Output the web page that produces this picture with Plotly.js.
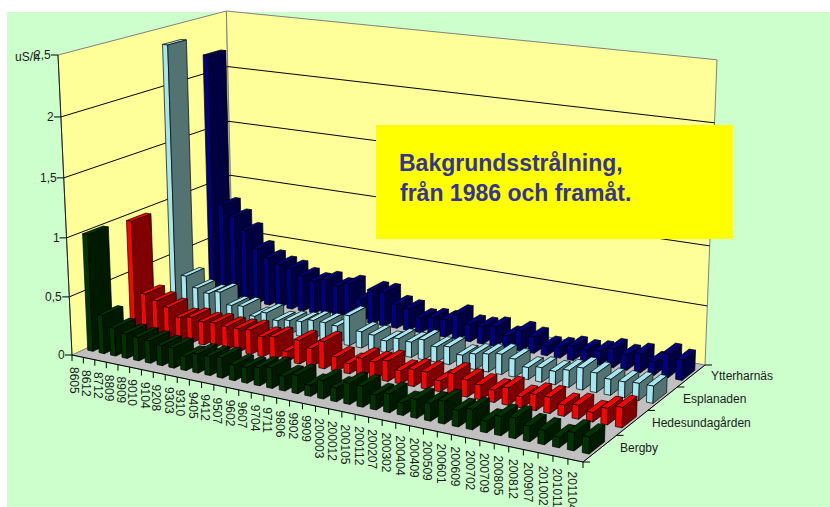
<!DOCTYPE html>
<html>
<head>
<meta charset="utf-8">
<script src="https://cdn.plot.ly/plotly-3.0.0.min.js"></script>
<style>html,body{margin:0;padding:0;background:#fff}#chart{width:830px;height:507px}</style>
</head>
<body>
<div id="chart"></div>
<script>
// Background radiation per measuring station, uS/h
const categories = ["8605","8612","8712","8809","8909","9010","9104","9208","9303","9310","9405","9412","9507","9602","9607","9704","9711","9806","9902","9909","200003","200012","200105","200112","200207","200302","200404","200409","200509","200601","200609","200702","200709","200805","200812","200907","201002","201011","201104"];
const bergby = [1.0,.33,.24,.21,.2,.19,.17,.17,.12,.16,.16,.17,.13,.13,.15,.17,.12,.15,.09,.15,.11,.17,.17,.12,.15,.1,.15,.14,.18,.13,.16,.09,.15,.16,.12,.11,.08,.14,.13];
const hedesunda = [.97,.35,.31,.27,.2,.22,.2,.21,.2,.2,.21,.17,.19,.085,.2,.15,.23,.12,.085,.15,.14,.17,.11,.14,.14,.09,.17,.14,.12,.1,.14,.09,.13,.13,.09,.11,.075,.13,.16];
const esplanaden = [2.37,.35,.26,.23,.26,.16,.17,.1,.15,.1,.12,.13,.16,.16,.15,.26,.14,.13,.1,.14,.13,.17,.13,.15,.1,.13,.15,.17,.15,.1,.12,.11,.14,.18,.16,.13,.13,.14,.14];
const ytterharnas = [2.18,.85,.76,.65,.5,.43,.39,.37,.32,.29,.32,.28,.32,.2,.3,.3,.21,.19,.13,.15,.15,.22,.15,.15,.17,.11,.17,.14,.08,.09,.12,.11,.12,.16,.13,.16,.11,.2,.17];
const seriesNames = ["Bergby","Hedesundagården","Esplanaden","Ytterharnäs"];
const seriesValues = [bergby, hedesunda, esplanaden, ytterharnas];
const valueTicks = [0,0.5,1,1.5,2,2.5];
const valueLabels = ["0","0,5","1","1,5","2","2,5"];
const valueMax = 2.5;

const faceColors = [
  {front:"#003300", side:"#001a00", top:"#003300"},
  {front:"#ff0000", side:"#800000", top:"#ff0000"},
  {front:"#a6e6f0", side:"#537373", top:"#a6e6f0"},
  {front:"#000080", side:"#000040", top:"#000080"}
];

// Perspective box: corners of the floor and the wall tops in page pixels
const FL=[72,355], FR=[583,462], BR=[705,365], BL=[233,281], TFL=[58,55], TBR=[717,62];
const den=(FR[0]-BR[0])*(BL[1]-BR[1])-(BL[0]-BR[0])*(FR[1]-BR[1]);
const sx=FL[0]-FR[0]+BR[0]-BL[0], sy=FL[1]-FR[1]+BR[1]-BL[1];
const g=(sx*(BL[1]-BR[1])-(BL[0]-BR[0])*sy)/den;
const h=((FR[0]-BR[0])*sy-sx*(FR[1]-BR[1]))/den;
const W=g+h+1;
const k=(W*(BR[0]-TBR[0])+TFL[0]-FL[0])/(TBR[0]-TFL[0]);
// u: along the categories, v: along the series, z: height, each 0..1
function project(u,v,z){
  const w=g*u+h*v+k*z+1;
  const X=(FR[0]-FL[0]+g*FR[0])*u+(BL[0]-FL[0]+h*BL[0])*v+(TFL[0]*(k+1)-FL[0])*z+FL[0];
  const Y=(FR[1]-FL[1]+g*FR[1])*u+(BL[1]-FL[1]+h*BL[1])*v+(TFL[1]*(k+1)-FL[1])*z+FL[1];
  return [X/w,Y/w];
}

const traces=[];
function poly(points,fill,line,width){
  const xs=points.map(p=>p[0]), ys=points.map(p=>p[1]);
  xs.push(xs[0]); ys.push(ys[0]);
  traces.push({type:"scatter",mode:"lines",x:xs,y:ys,fill:"toself",fillcolor:fill,
    line:{color:line,width:width},hoverinfo:"skip",showlegend:false});
}
function seg(a,b,color,width){
  traces.push({type:"scatter",mode:"lines",x:[a[0],b[0]],y:[a[1],b[1]],
    line:{color:color,width:width},hoverinfo:"skip",showlegend:false});
}

// Chart background
poly([[7,12],[830,12],[830,507],[7,507]],"#ccffcc","#ccffcc",0);
// Walls and floor
poly([project(0,0,0),project(0,1,0),project(0,1,1),project(0,0,1)],"#ffff99","#808080",1);
poly([project(0,1,0),project(1,1,0),project(1,1,1),project(0,1,1)],"#ffff99","#808080",1);
poly([project(0,0,0),project(1,0,0),project(1,1,0),project(0,1,0)],"#c0c0c0","#808080",0.8);
// Grid lines
valueTicks.slice(1,-1).forEach(t=>{
  const z=t/valueMax;
  seg(project(0,0,z),project(0,1,z),"#000",1);
  seg(project(0,1,z),project(1,1,z),"#000",1);
});
// Axis lines and ticks
seg(project(0,0,0),project(0,0,1),"#222",1);
seg(project(0,0,0),project(1,0,0),"#000",1);
seg(project(1,0,0),project(1,1,0),"#000",1);
const annotations=[];
const baseText={showarrow:false,xref:"x",yref:"y",font:{family:"Liberation Sans, Arial, sans-serif",size:12,color:"#1a1a1a"}};
valueTicks.forEach((t,i)=>{
  const p=project(0,0,t/valueMax);
  seg([p[0]-7,p[1]],p,"#000",1);
  annotations.push({...baseText,x:p[0]-5,y:p[1],text:valueLabels[i],xanchor:"right",yanchor:"middle"});
});
annotations.push({...baseText,x:13,y:57,text:"uS/h",xanchor:"left",yanchor:"middle"});
const nCat=categories.length, nSer=seriesNames.length;
categories.forEach((c,i)=>{
  const p=project(i/nCat,0,0);
  seg(p,[p[0],p[1]+6],"#000",1);
  const q=project((i+0.5)/nCat,0,0);
  annotations.push({...baseText,x:q[0]-3,y:q[1]+9,text:c,textangle:90,xanchor:"center",yanchor:"top"});
});
{const p=project(1,0,0); seg(p,[p[0],p[1]+6],"#000",1);}
seriesNames.forEach((n,j)=>{
  const p=project(1,j/nSer,0);
  seg(p,[p[0]+7,p[1]],"#000",1);
  const q=project(1,(j+0.5)/nSer,0);
  annotations.push({...baseText,x:q[0]+18,y:q[1],text:n,xanchor:"left",yanchor:"middle"});
});
{const p=project(1,1,0); seg(p,[p[0]+7,p[1]],"#000",1);}

// Bars, drawn back to front and left to right so nearer bars cover farther ones
const barWidth=0.46, barDepth=0.46, barCentre=0.56;
for(let j=nSer-1;j>=0;j--){
  seriesValues[j].forEach((val,i)=>{
    const u0=(i+barCentre-barWidth/2)/nCat, u1=(i+barCentre+barWidth/2)/nCat;
    const v0=(j+0.5-barDepth/2)/nSer, v1=(j+0.5+barDepth/2)/nSer;
    const z=val/valueMax, col=faceColors[j];
    poly([project(u0,v0,z),project(u1,v0,z),project(u1,v1,z),project(u0,v1,z)],col.top,"#000",0.7);
    poly([project(u0,v0,0),project(u1,v0,0),project(u1,v0,z),project(u0,v0,z)],col.front,"#000",0.7);
    poly([project(u1,v0,0),project(u1,v1,0),project(u1,v1,z),project(u1,v0,z)],col.side,"#000",0.7);
  });
}

// Caption box
const boxShape={type:"rect",xref:"x",yref:"y",x0:376,x1:733,y0:125,y1:239,fillcolor:"#ffff00",line:{width:0},layer:"above"};
const titleFont={family:"Liberation Sans, Arial, sans-serif",size:23,color:"#333399"};
annotations.push({showarrow:false,xref:"x",yref:"y",x:397,y:163,text:"<b>Bakgrundsstrålning,</b>",xanchor:"left",yanchor:"middle",font:titleFont});
annotations.push({showarrow:false,xref:"x",yref:"y",x:398,y:193,text:"<b>från 1986 och framåt.</b>",xanchor:"left",yanchor:"middle",font:titleFont});

Plotly.newPlot("chart",traces,{
  width:830,height:507,margin:{l:0,r:0,t:0,b:0},
  paper_bgcolor:"#ffffff",plot_bgcolor:"rgba(0,0,0,0)",showlegend:false,
  xaxis:{range:[0,830],visible:false,fixedrange:true},
  yaxis:{range:[507,0],visible:false,fixedrange:true},
  shapes:[boxShape],annotations:annotations
},{staticPlot:true,displayModeBar:false});
</script>
</body>
</html>
